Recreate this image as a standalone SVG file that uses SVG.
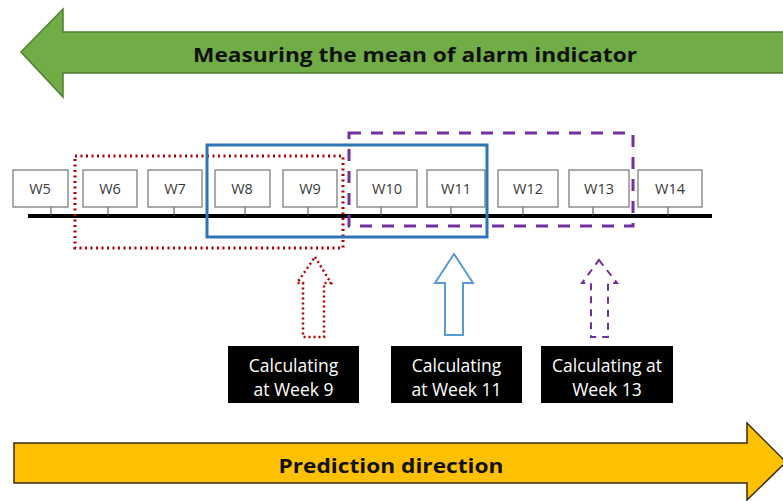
<svg xmlns="http://www.w3.org/2000/svg" width="783" height="501" viewBox="0 0 783 501">
<style>
.wk rect{fill:#fff;stroke:#7f7f7f;stroke-width:1.3}
.wk line{stroke:#444;stroke-width:1}
.wk text{font-family:"Open Sans","Liberation Sans",sans-serif;font-size:14.5px;fill:#3a3a3a;text-anchor:middle}
.lbl rect{fill:#000}
.lbl text{font-family:"Open Sans","Liberation Sans",sans-serif;font-size:17.5px;fill:#fff;text-anchor:middle}
.big{font-family:"Open Sans","Liberation Sans",sans-serif;font-weight:bold;font-size:19px;text-anchor:middle;fill:#111}
</style>
<rect width="783" height="501" fill="#fff"/>
<g id="measure-arrow">
<polygon points="21,52 63,9 63,32 790,32 790,73 63,73 63,97" fill="#70AD47" stroke="#507E32" stroke-width="1.5"/>
<text class="big" x="415" y="62" textLength="444" lengthAdjust="spacingAndGlyphs">Measuring the mean of alarm indicator</text>
</g>
<g id="timeline">
<line x1="28" y1="216" x2="712" y2="216" stroke="#000" stroke-width="4"/>
</g>
<g id="W5" class="wk"><line x1="51" y1="207" x2="51" y2="216"/><rect x="13" y="170" width="55" height="37"/><text x="40" y="194">W5</text></g>
<g id="W6" class="wk"><line x1="108" y1="207" x2="108" y2="216"/><rect x="83" y="170" width="54" height="37"/><text x="110" y="194">W6</text></g>
<g id="W7" class="wk"><line x1="174" y1="207" x2="174" y2="216"/><rect x="148" y="170" width="54" height="37"/><text x="175" y="194">W7</text></g>
<g id="W8" class="wk"><line x1="245" y1="207" x2="245" y2="216"/><rect x="215" y="170" width="55" height="37"/><text x="242" y="194">W8</text></g>
<g id="W9" class="wk"><line x1="308" y1="207" x2="308" y2="216"/><rect x="283" y="170" width="54" height="37"/><text x="310" y="194">W9</text></g>
<g id="W10" class="wk"><line x1="381" y1="207" x2="381" y2="216"/><rect x="357" y="170" width="60" height="37"/><text x="387" y="194">W10</text></g>
<g id="W11" class="wk"><line x1="451" y1="207" x2="451" y2="216"/><rect x="427" y="170" width="58" height="37"/><text x="456" y="194">W11</text></g>
<g id="W12" class="wk"><line x1="523" y1="207" x2="523" y2="216"/><rect x="498" y="170" width="60" height="37"/><text x="528" y="194">W12</text></g>
<g id="W13" class="wk"><line x1="593" y1="207" x2="593" y2="216"/><rect x="569" y="170" width="60" height="37"/><text x="599" y="194">W13</text></g>
<g id="W14" class="wk"><line x1="668" y1="207" x2="668" y2="216"/><rect x="638" y="170" width="64" height="37"/><text x="670" y="194">W14</text></g>
<g id="windows" fill="none">
<rect id="win9" x="75" y="156" width="268" height="92" stroke="#B00000" stroke-width="3" stroke-dasharray="2 3.5"/>
<rect id="win11" x="207" y="145" width="280" height="92" stroke="#2E75B6" stroke-width="3"/>
<rect id="win13" x="349" y="133" width="284" height="93" stroke="#7030A0" stroke-width="3" stroke-dasharray="12 10"/>
</g>
<g id="up-arrows" fill="#fff">
<polygon points="315,257 331,283 324,283 324,337 303,337 303,283 297,283" stroke="#B00000" stroke-width="2.5" stroke-dasharray="2 3"/>
<polygon points="454,254 473,283 463,283 463,335 445,335 445,283 435,283" stroke="#5B9BD5" stroke-width="2"/>
<polygon points="599,260 617,283 608,283 608,337 591,337 591,283 582,283" stroke="#7030A0" stroke-width="2" stroke-dasharray="7 6"/>
</g>
<g id="label9" class="lbl"><rect x="228" y="346" width="131" height="57"/><text x="293.5" y="372">Calculating</text><text x="293.5" y="396">at Week 9</text></g>
<g id="label11" class="lbl"><rect x="391" y="346" width="131" height="57"/><text x="456.5" y="372">Calculating</text><text x="456.5" y="396">at Week 11</text></g>
<g id="label13" class="lbl"><rect x="541" y="346" width="132" height="57"/><text x="607" y="372">Calculating at</text><text x="607" y="396">Week 13</text></g>
<g id="prediction-arrow">
<polygon points="14,443 747,443 747,423 786,462 747,500 747,483 14,483" fill="#FFC000" stroke="#3B2A10" stroke-width="1.5"/>
<text class="big" x="391" y="473" textLength="225" lengthAdjust="spacingAndGlyphs">Prediction direction</text>
</g>
</svg>
